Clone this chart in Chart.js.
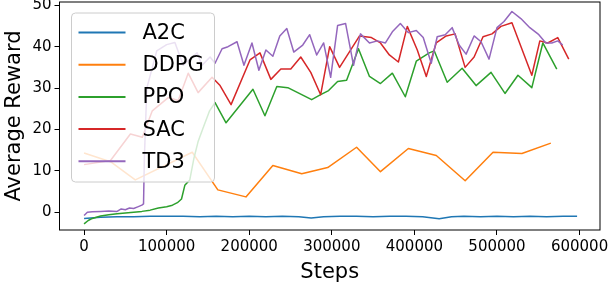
<!DOCTYPE html>
<html>
<head>
<meta charset="utf-8">
<script src="https://cdn.jsdelivr.net/npm/chart.js@4"></script>
<style>
  html, body { margin: 0; padding: 0; background: #fff; }
</style>
</head>
<body>
<canvas id="rewardChart" width="610" height="286"></canvas>
<script>
const xTicks = [0, 100000, 200000, 300000, 400000, 500000, 600000];
const yTicks = [0, 10, 20, 30, 40, 50];

const a2cSteps = [0, 20000, 40000, 60000, 80000, 100000, 120000, 140000, 160000, 180000, 200000, 220000, 240000, 260000, 275000, 290000, 310000, 330000, 350000, 370000, 390000, 410000, 430000, 445000, 460000, 480000, 500000, 520000, 540000, 560000, 580000, 597000];
const a2cReward = [-1.5, -1.2, -1.1, -1.1, -1.0, -1.0, -1.0, -1.1, -1.0, -1.1, -1.0, -1.1, -1.0, -1.1, -1.4, -1.1, -1.0, -1.0, -1.1, -1.0, -1.0, -1.1, -1.6, -1.1, -1.0, -1.1, -1.0, -1.1, -1.0, -1.1, -1.0, -1.0];

const ddpgSteps = [0, 32000, 62000, 131000, 162000, 196000, 228600, 263600, 295000, 330000, 358900, 392700, 426500, 461500, 495200, 530200, 565200];
const ddpgReward = [14.3, 12.2, 7.8, 14.5, 5.4, 3.7, 11.3, 9.3, 10.8, 15.7, 9.8, 15.4, 13.7, 7.6, 14.5, 14.2, 16.7];

const ppoSteps = [0, 5000, 10000, 20000, 30000, 40000, 50000, 60000, 70000, 80000, 90000, 100000, 107000, 113000, 118000, 122000, 128000, 133000, 138000, 144000, 152000, 158600, 171900, 204500, 219000, 233400, 246700, 275600, 286500, 296100, 307000, 317900, 332300, 345600, 358900, 373300, 389000, 402300, 418000, 424000, 439700, 457800, 474700, 492800, 509700, 525400, 542200, 555500, 572400];
const ppoReward = [-2.8, -2.0, -1.5, -0.9, -0.6, -0.4, -0.2, 0.0, 0.2, 0.5, 1.0, 1.3, 1.7, 2.3, 3.2, 6.5, 7.8, 13, 17, 20.3, 24.5, 26.5, 21.6, 29.7, 23.3, 30.4, 30.1, 27.2, 28.4, 29.4, 31.6, 31.9, 39.5, 32.8, 31.1, 33.6, 27.9, 36.5, 38.5, 39.0, 31.4, 34.8, 30.6, 33.8, 28.7, 33.1, 30.1, 40.9, 34.6];

const sacSteps = [0, 32000, 56100, 70600, 82600, 101900, 114000, 126100, 138100, 155000, 164700, 178000, 200900, 213000, 226200, 238300, 250300, 262400, 274500, 286500, 297400, 309400, 333600, 348000, 358900, 369700, 380600, 391400, 403500, 414400, 426400, 438500, 449300, 461400, 472300, 483100, 494000, 504800, 518100, 542200, 551900, 561500, 573600, 586900];
const sacReward = [11.5, 12.5, 18.9, 18.1, 24.5, 27.7, 27.0, 33.6, 28.9, 32.6, 30.6, 26.0, 36.8, 38.5, 32.1, 34.6, 34.6, 37.5, 33.8, 28.4, 40.0, 35.0, 42.6, 42.2, 40.9, 38.0, 36.3, 44.9, 39.2, 32.8, 40.9, 42.6, 43.1, 35.0, 37.5, 42.4, 43.1, 44.9, 45.8, 33.1, 41.4, 40.9, 42.2, 37.0];

const td3Steps = [0, 4000, 10000, 20000, 30000, 40000, 45000, 50000, 55000, 60000, 65000, 70000, 72000, 73000, 76000, 88000, 100000, 110000, 120000, 136900, 142900, 152600, 158600, 167100, 174300, 185200, 193600, 203300, 211700, 220200, 228600, 237000, 245500, 253900, 264800, 273200, 281700, 290100, 298600, 307000, 316700, 326300, 334700, 345600, 355200, 364900, 373300, 383000, 392600, 402300, 410700, 420400, 427600, 437300, 445700, 454200, 462600, 472300, 480700, 490400, 500000, 508500, 518100, 528900, 539800, 550700, 559100, 566400, 573600, 579600];
const td3Reward = [-0.8, 0.0, 0.1, 0.2, 0.3, 0.2, 0.8, 0.6, 1.0, 0.9, 1.3, 1.7, 2.0, 13, 30, 39, 40.5, 41.0, 35.5, 38.5, 35.5, 37.5, 36.0, 39.5, 40.0, 41.2, 35.5, 40.9, 34.3, 39.2, 37.7, 42.6, 44.4, 38.7, 40.4, 42.9, 38.0, 40.9, 32.6, 45.1, 45.6, 35.5, 43.1, 40.9, 41.4, 40.9, 43.6, 45.6, 43.4, 43.9, 42.2, 36.0, 42.4, 42.9, 44.6, 40.4, 38.2, 42.6, 41.2, 37.0, 44.6, 46.1, 48.5, 46.8, 44.6, 42.9, 40.9, 40.9, 41.4, 40.4];

const toPoints = (steps, vals) => steps.map((s, i) => ({ x: s, y: vals[i] }));

Chart.defaults.font.family = "'DejaVu Sans', sans-serif";
Chart.defaults.color = '#000';

// frame round the plot + legend box inside the axes (like matplotlib)
const frameAndLegend = {
  id: 'frameAndLegend',
  afterDraw(chart) {
    const { ctx, chartArea: a } = chart;
    ctx.save();
    ctx.strokeStyle = '#000';
    ctx.lineWidth = 1;
    ctx.strokeRect(a.left, a.top, a.right - a.left, a.bottom - a.top);

    const bx = a.left + 12, by = a.top + 11;
    ctx.beginPath();
    ctx.roundRect(bx, by, 143, 169, 4);
    ctx.fillStyle = 'rgba(255,255,255,0.8)';
    ctx.fill();
    ctx.strokeStyle = '#cccccc';
    ctx.stroke();

    ctx.font = "21px 'DejaVu Sans'";
    ctx.textBaseline = 'middle';
    ctx.textAlign = 'left';
    chart.data.datasets.forEach((ds, i) => {
      const y = by + 19.5 + i * 32.2;
      ctx.beginPath();
      ctx.moveTo(bx + 7, y);
      ctx.lineTo(bx + 54, y);
      ctx.strokeStyle = ds.borderColor;
      ctx.lineWidth = 2;
      ctx.stroke();
      ctx.fillStyle = '#000';
      ctx.fillText(ds.label, bx + 71, y + 1);
    });
    ctx.restore();
  }
};

const ctx = document.getElementById('rewardChart');

new Chart(ctx, {
  type: 'line',
  data: {
    datasets: [
      { label: 'A2C', data: toPoints(a2cSteps, a2cReward), borderColor: '#1f77b4', order: 5 },
      { label: 'DDPG', data: toPoints(ddpgSteps, ddpgReward), borderColor: '#ff7f0e', order: 4 },
      { label: 'PPO', data: toPoints(ppoSteps, ppoReward), borderColor: '#2ca02c', order: 3 },
      { label: 'SAC', data: toPoints(sacSteps, sacReward), borderColor: '#d62728', order: 2 },
      { label: 'TD3', data: toPoints(td3Steps, td3Reward), borderColor: '#9467bd', order: 1 }
    ]
  },
  options: {
    responsive: false,
    animation: false,
    layout: { padding: { left: 0, right: 10, top: 2, bottom: 0 } },
    elements: {
      point: { radius: 0 },
      line: { borderWidth: 1.5, tension: 0, fill: false, borderJoinStyle: 'round' }
    },
    plugins: {
      legend: { display: false },
      tooltip: { enabled: false }
    },
    scales: {
      x: {
        type: 'linear',
        min: -29750,
        max: 624750,
        afterBuildTicks: s => { s.ticks = xTicks.map(v => ({ value: v })); },
        afterFit: s => { s.height = 56; s.paddingLeft = 0; s.paddingRight = 0; },
        ticks: {
          font: { size: 15 }, color: '#000', padding: 3,
          maxRotation: 0, autoSkip: false,
          callback: v => String(v)
        },
        grid: { drawOnChartArea: false, drawTicks: true, tickLength: 5, color: '#000' },
        border: { display: false },
        title: { display: true, text: 'Steps', font: { size: 21 }, color: '#000', padding: { top: 0, bottom: 1 } }
      },
      y: {
        min: -4.3,
        max: 50.8,
        afterBuildTicks: s => { s.ticks = yTicks.map(v => ({ value: v })); },
        afterFit: s => { s.width = 59.5; s.paddingTop = 0; s.paddingBottom = 0; },
        ticks: { font: { size: 15 }, color: '#000', padding: 3, callback: v => String(v) },
        grid: { drawOnChartArea: false, drawTicks: true, tickLength: 5, color: '#000' },
        border: { display: false },
        title: { display: true, text: 'Average Reward', font: { size: 21 }, color: '#000', padding: { top: 2, bottom: 0 } }
      }
    }
  },
  plugins: [frameAndLegend]
});
</script>
</body>
</html>
